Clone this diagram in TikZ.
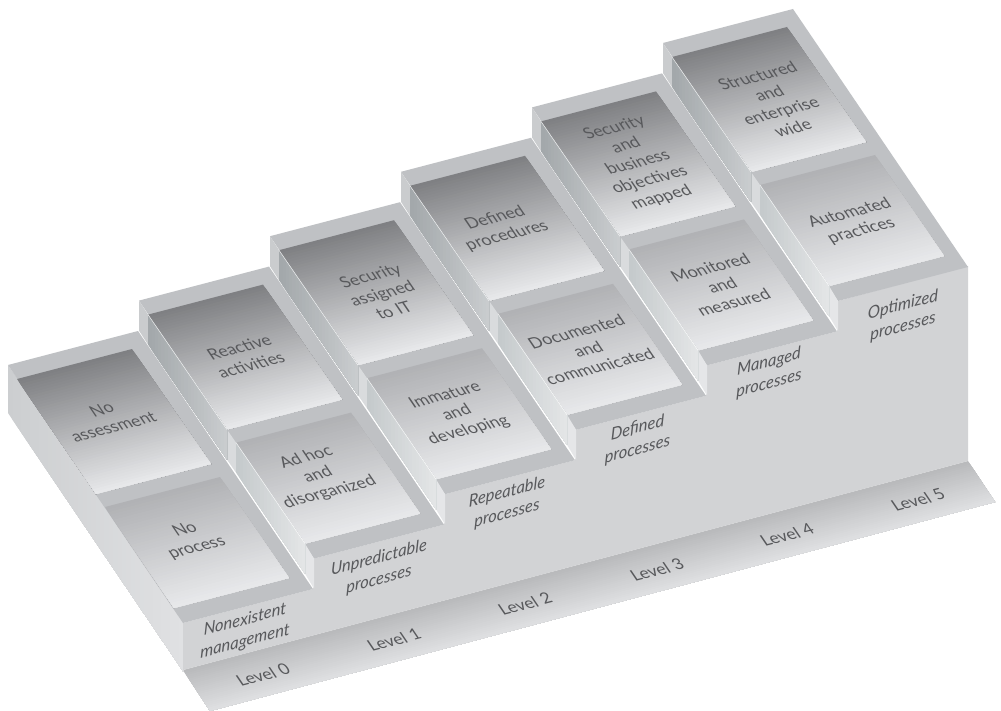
\documentclass[tikz,border=0pt]{standalone}
\usepackage{fontspec}
\setmainfont{Lato}
\definecolor{rimc}{HTML}{BFC1C4}
\definecolor{riserc}{HTML}{D2D3D5}
\definecolor{inkc}{HTML}{58595C}
\definecolor{floortop}{HTML}{B8B9BB}
\definecolor{floorbot}{HTML}{DFE0E2}
\definecolor{sidea}{HTML}{CCCED0}
\definecolor{sideb}{HTML}{E0E1E3}
\definecolor{upa}{HTML}{7E7F82}
\definecolor{lowa}{HTML}{B0B1B4}
\definecolor{panelb}{HTML}{E8E9EB}
\definecolor{stripa}{HTML}{A2A7AA}
\definecolor{stripb}{HTML}{CACDCF}
\definecolor{stripc}{HTML}{C4C9CB}
\definecolor{stripd}{HTML}{E4E6E7}
\definecolor{capa}{HTML}{CACCCE}
\definecolor{capb}{HTML}{D9DBDD}
\definecolor{capc}{HTML}{E5E6E8}
% gradient parallelogram: corner P, edge U, edge V; colour runs along V
\newcommand{\gband}[9][40]{%
  \pgfmathtruncatemacro{\gbn}{#1-1}%
  \foreach \k in {0,...,\gbn}{%
    \pgfmathsetmacro{\gbt}{\k/#1}%
    \pgfmathsetmacro{\gbp}{100*(\k+0.5)/#1}%
    \fill[#9!\gbp!#8] (#2+\gbt*#6,#3+\gbt*#7) -- (#2+#4+\gbt*#6,#3+#5+\gbt*#7) -- (#2+#4+#6,#3+#5+#7) -- (#2+#6,#3+#7) -- cycle;
  }}
\tikzset{
  x=1pt,y=-1pt,
  basetext/.style={text=inkc,align=center,inner sep=0pt,font=\fontsize{17}{21}\selectfont},
  paneltext/.style={basetext,cm={0.967,0.253,-0.561,0.828,(0,0)}},
  risertext/.style={basetext,cm={0.967,0.253,0,1,(0,0)},font=\fontsize{17}{21.5}\selectfont\itshape},
  rimline/.style={white,line width=0.5pt,opacity=0.8},
}
\begin{document}
\begin{tikzpicture}
\useasboundingbox (0,0) rectangle (1001,711);
\fill[white] (0,0) rectangle (1001,711);
% floor strip
\gband[24]{183}{670}{785}{-209}{27}{41}{floortop}{floorbot}
% outer left side
\gband[40]{8}{365}{0}{48}{175}{258}{sidea}{sideb}
% front of staircase
\fill[riserc] (183,623) -- (313,589) -- (314,558.6) -- (444,524.6) -- (445,494.2) -- (575,460.2) -- (576,429.8) -- (706,395.8) -- (707,365.4) -- (837,331.4) -- (838,301) -- (968,266) -- (968,461) -- (183,670) -- cycle;
\foreach \i in {0,...,5}{
  \pgfmathsetmacro{\bx}{8+131*\i}
  \pgfmathsetmacro{\by}{365-64.4*\i}
  \begin{scope}[shift={(\bx,\by)}]
    \fill[rimc] (0,0) -- (130,-34) -- (305,224) -- (175,258) -- cycle;
    % upper panel
    \gband[48]{9}{14}{115}{-30}{79}{115}{upa}{panelb}
    % lower panel
    \gband[40]{97}{142}{115}{-30}{69}{101}{lowa}{panelb}
    \ifnum\i>0
      \fill[capa] (0,0) -- (9,14) -- (9,44) -- (0,30) -- cycle;
      \fill[capb] (88,129) -- (97,142) -- (97,172) -- (88,159) -- cycle;
      \fill[capc] (166,243) -- (175,258) -- (175,288) -- (166,273) -- cycle;
      \gband[24]{9}{14}{0}{30}{79}{115}{stripa}{stripb}
      \gband[20]{97}{142}{0}{30}{69}{101}{stripc}{stripd}
      \draw[rimline] (9,14) -- (88,129);
      \draw[rimline] (97,142) -- (166,243);
    \fi
  \end{scope}
}
% panel texts
\node[paneltext] (t0a) at (107.5,418) {No\\assessment};
\node[paneltext] (t0b) at (191,539) {No\\process};
\node[paneltext] (t1a) at (245,356) {Reactive\\activities};
\node[paneltext] (t1b) at (318,475) {Ad hoc\\and\\disorganized};
\node[paneltext] (t2a) at (382,293) {Security\\assigned\\to IT};
\node[paneltext] (t2b) at (457,413) {Immature\\and\\developing};
\node[paneltext] (t3a) at (501,227) {Defined\\procedures};
\node[paneltext] (t3b) at (588,349) {Documented\\and\\communicated};
\node[paneltext] (t4a) at (638,163) {Security\\and\\business\\objectives\\mapped};
\node[paneltext] (t4b) at (722,285) {Monitored\\and\\measured};
\node[paneltext] (t5a) at (775,102) {Structured\\and\\enterprise\\wide};
\node[paneltext] (t5b) at (855.5,222) {Automated\\practices};
% riser texts
\node[risertext] (r0) at (245,631) {Nonexistent\\management};
\node[risertext] (r1) at (379,569) {Unpredictable\\processes};
\node[risertext] (r2) at (507,503) {Repeatable\\processes};
\node[risertext] (r3) at (637.5,439) {Defined\\processes};
\node[risertext] (r4) at (769,373) {Managed\\processes};
\node[risertext] (r5) at (903,316) {Optimized\\processes};
% level texts
\node[paneltext] (l0) at (263,675) {Level 0};
\node[paneltext] (l1) at (394,640) {Level 1};
\node[paneltext] (l2) at (525,604) {Level 2};
\node[paneltext] (l3) at (657,570) {Level 3};
\node[paneltext] (l4) at (787,535) {Level 4};
\node[paneltext] (l5) at (918,500) {Level 5};
\end{tikzpicture}
\end{document}
